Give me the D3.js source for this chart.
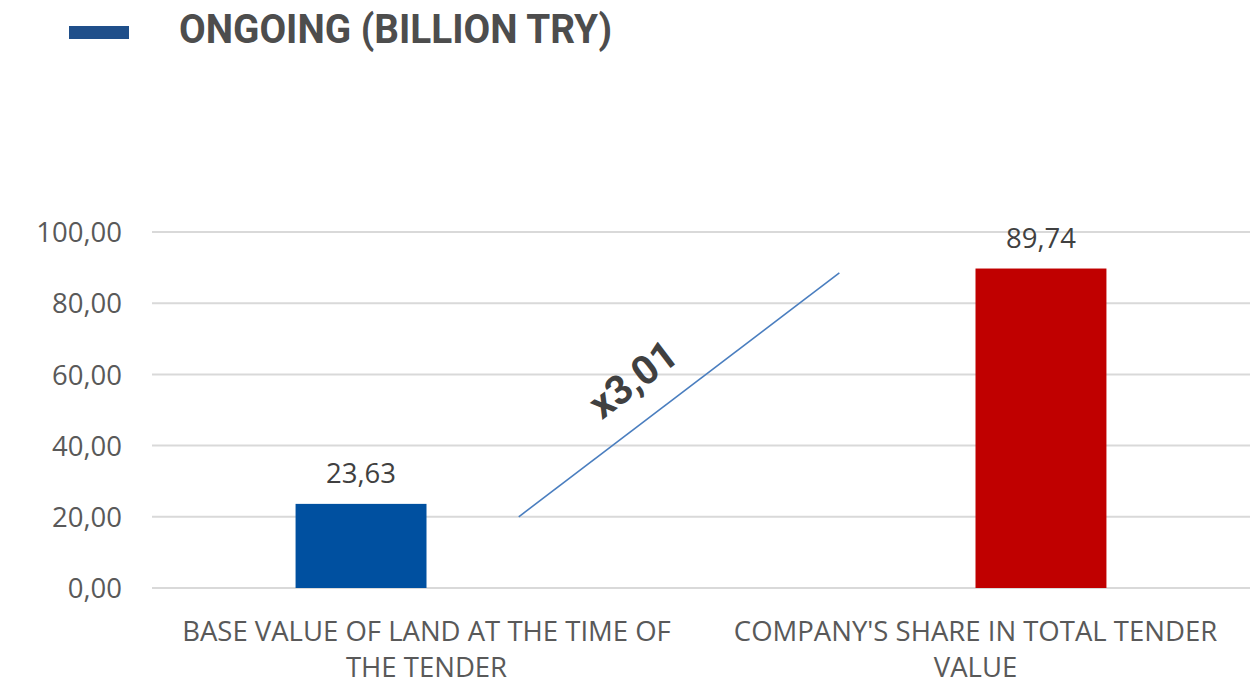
<!DOCTYPE html>
<html>
<head>
<meta charset="utf-8">
<script src="https://cdn.jsdelivr.net/npm/d3@7"></script>
<style>
  html, body { margin: 0; padding: 0; background: #ffffff; }
  svg { display: block; }
</style>
</head>
<body>
<svg id="chart" width="1255" height="685"></svg>
<script>
// Chart data
const categories = [
  "BASE VALUE OF LAND AT THE TIME OF THE TENDER",
  "COMPANY'S SHARE IN TOTAL TENDER VALUE"
];
const categoryLines = [
  ["BASE VALUE OF LAND AT THE TIME OF", "THE TENDER"],
  ["COMPANY'S SHARE IN TOTAL TENDER", "VALUE"]
];
const seriesNames = ["ONGOING (BILLION TRY)", "COMPANY'S SHARE"];
const baseValues = [23.63, null];
const shareValues = [null, 89.74];
const seriesColors = ["#0050a0", "#c00000"];
const yTicks = [0, 20, 40, 60, 80, 100];
const multiplierLabel = "x3,01";
// growth arrow: position along the category axis (0 = first, 1 = second) and value
const arrowStart = { pos: 0.168, value: 20 };
const arrowEnd = { pos: 0.752, value: 88.5 };
const arrowLabelAt = { pos: 0.376, value: 58.7 };

const locale = d3.formatLocale({ decimal: ",", thousands: ".", grouping: [3], currency: ["", " TL"] });
const fmt = locale.format(".2f");

const svg = d3.select("#chart");
const W = 1255, H = 685;
const margin = { top: 232, right: 5, bottom: 97, left: 152 };
const innerW = W - margin.left - margin.right;
const innerH = H - margin.top - margin.bottom;

const g = svg.append("g").attr("transform", `translate(${margin.left},${margin.top})`);

const x = d3.scaleBand().domain(categories).range([0, innerW]).paddingInner(0).paddingOuter(0);
const groupWidth = x.bandwidth() * 0.477;
const xSeries = d3.scaleBand().domain(seriesNames)
  .range([(x.bandwidth() - groupWidth) / 2, (x.bandwidth() + groupWidth) / 2]);
const y = d3.scaleLinear().domain([0, 100]).range([innerH, 0]);

// gridlines
g.append("g")
  .selectAll("line")
  .data(yTicks)
  .join("line")
  .attr("x1", 0).attr("x2", innerW)
  .attr("y1", d => y(d)).attr("y2", d => y(d))
  .attr("stroke", "#d9d9d9")
  .attr("stroke-width", 2);

// y axis labels
const yAxis = d3.axisLeft(y).tickValues(yTicks).tickFormat(fmt).tickSize(0).tickPadding(30);
const yg = g.append("g").call(yAxis);
yg.select(".domain").remove();
yg.selectAll("text")
  .attr("font-family", "'Open Sans', sans-serif")
  .attr("font-size", 27.5)
  .attr("fill", "#595959")
  .attr("dy", "0.35em");

// bars
const series = [
  { name: seriesNames[0], values: baseValues, color: seriesColors[0] },
  { name: seriesNames[1], values: shareValues, color: seriesColors[1] }
];
const barData = [];
series.forEach(s => s.values.forEach((v, i) => {
  if (v != null) barData.push({ series: s.name, category: categories[i], value: v, color: s.color });
}));

g.append("g")
  .selectAll("rect")
  .data(barData)
  .join("rect")
  .attr("x", d => x(d.category) + xSeries(d.series))
  .attr("y", d => y(d.value))
  .attr("width", xSeries.bandwidth())
  .attr("height", d => y(0) - y(d.value))
  .attr("fill", d => d.color);

// value labels
g.append("g")
  .selectAll("text")
  .data(barData)
  .join("text")
  .attr("x", d => x(d.category) + xSeries(d.series) + xSeries.bandwidth() / 2)
  .attr("y", d => y(d.value) - 21)
  .attr("text-anchor", "middle")
  .attr("font-family", "'Open Sans', sans-serif")
  .attr("font-size", 27.5)
  .attr("fill", "#404040")
  .text(d => fmt(d.value));

// category labels
const catG = g.append("g");
categories.forEach((c, i) => {
  const t = catG.append("text")
    .attr("x", x(c) + x.bandwidth() / 2)
    .attr("y", innerH + 53)
    .attr("text-anchor", "middle")
    .attr("font-family", "'Open Sans', sans-serif")
    .attr("font-size", 27.5)
    .attr("fill", "#595959");
  categoryLines[i].forEach((line, j) => {
    t.append("tspan")
      .attr("x", x(c) + x.bandwidth() / 2)
      .attr("dy", j === 0 ? 0 : 36)
      .text(line);
  });
});

// growth arrow between the two bars
const xPos = d3.scaleLinear().domain([0, 1])
  .range([x(categories[0]) + x.bandwidth() / 2, x(categories[1]) + x.bandwidth() / 2]);
g.append("line")
  .attr("x1", xPos(arrowStart.pos)).attr("y1", y(arrowStart.value))
  .attr("x2", xPos(arrowEnd.pos)).attr("y2", y(arrowEnd.value))
  .attr("stroke", "#4a7ebf")
  .attr("stroke-width", 1.6);

const angle = Math.atan2(y(arrowEnd.value) - y(arrowStart.value), xPos(arrowEnd.pos) - xPos(arrowStart.pos)) * 180 / Math.PI;
g.append("text")
  .attr("transform", `translate(${xPos(arrowLabelAt.pos)},${y(arrowLabelAt.value)}) rotate(${angle})`)
  .attr("text-anchor", "middle")
  .attr("dy", "0.35em")
  .attr("font-family", "Roboto, sans-serif")
  .attr("font-weight", 700)
  .attr("font-size", 40)
  .attr("fill", "#404040")
  .text(multiplierLabel);

// legend
const legend = svg.append("g");
legend.append("rect")
  .attr("x", 69).attr("y", 26)
  .attr("width", 60).attr("height", 13)
  .attr("fill", "#1f4f8a");
legend.append("text")
  .attr("x", 179).attr("y", 43)
  .attr("font-family", "Roboto, sans-serif")
  .attr("font-weight", 700)
  .attr("font-size", 40)
  .attr("textLength", 433)
  .attr("lengthAdjust", "spacingAndGlyphs")
  .attr("fill", "#4d4d4d")
  .text(seriesNames[0]);
</script>
</body>
</html>
